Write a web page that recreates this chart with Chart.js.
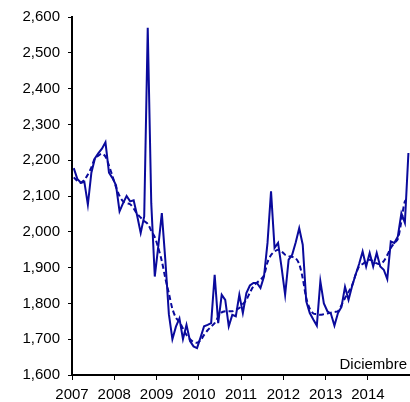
<!DOCTYPE html>
<html>
<head>
<meta charset="utf-8">
<script src="https://cdn.jsdelivr.net/npm/chart.js@4.4.1/dist/chart.umd.min.js"></script>
<style>
  html, body { margin: 0; padding: 0; background: #fff; }
  #wrap { width: 410px; height: 402px; position: relative; }
</style>
</head>
<body>
<div id="wrap"><canvas id="chart"></canvas></div>
<script>
// mensual, enero 2007 - diciembre 2014
const years = ["2007", "2008", "2009", "2010", "2011", "2012", "2013", "2014"];
const yTicks = [1600, 1700, 1800, 1900, 2000, 2100, 2200, 2300, 2400, 2500, 2600];

const serieMensual = [
	2178, 2148, 2137, 2140, 2076, 2165, 2205, 2220, 2232, 2250, 2165, 2150,
	2130, 2057, 2080, 2100, 2085, 2088, 2045, 1997, 2043, 2570, 2080, 1875,
	1960, 2052, 1920, 1770, 1700, 1735, 1758, 1700, 1740, 1695, 1680, 1675,
	1705, 1736, 1740, 1745, 1880, 1745, 1824, 1810, 1736, 1768, 1764, 1824,
	1773, 1829, 1850, 1857, 1857, 1843, 1875, 1969, 2113, 1955, 1969, 1900,
	1824, 1922, 1936, 1970, 2010, 1964, 1806, 1773, 1755, 1738, 1862, 1800,
	1778, 1771, 1738, 1773, 1790, 1846, 1810, 1848, 1880, 1910, 1945, 1903,
	1941, 1903, 1941, 1903, 1894, 1868, 1973, 1969, 1987, 2052, 2025, 2220
];

const tendencia = [
	2152, 2143, 2137, 2145, 2160, 2180, 2205, 2213, 2218, 2210, 2185, 2155,
	2125, 2100, 2085, 2080, 2077, 2065, 2050, 2040, 2030, 2022, 2003, 1985,
	1955, 1918, 1870, 1828, 1785, 1760, 1748, 1730, 1712, 1700, 1692, 1690,
	1697, 1712, 1725, 1735, 1745, 1762, 1775, 1778, 1778, 1778, 1782, 1787,
	1798, 1810, 1830, 1848, 1858, 1866, 1878, 1915, 1935, 1945, 1950, 1945,
	1936, 1932, 1930, 1926, 1910, 1870, 1815, 1785, 1772, 1770, 1768, 1770,
	1772, 1774, 1776, 1778, 1795, 1815, 1832, 1850, 1880, 1903, 1910, 1918,
	1922, 1918, 1912, 1910, 1918, 1935, 1955, 1968, 1980, 2030, 2085, 2095
];

const azul = "#0a0a9c";
const fuente = "'Liberation Sans', Arial, sans-serif";

const toPoints = arr => arr.map((v, i) => ({ x: i, y: v }));

const diciembrePlugin = {
	id: "diciembre",
	afterDraw(chart) {
		const c = chart.ctx;
		const area = chart.chartArea;
		c.save();
		c.font = "15px " + fuente;
		c.fillStyle = "#000";
		c.textAlign = "right";
		c.textBaseline = "alphabetic";
		c.fillText("Diciembre", area.right - 3, area.bottom - 6);
		c.restore();
	}
};

new Chart(document.getElementById("chart"), {
	type: "line",
	data: {
		datasets: [
			{
				label: "Mensual",
				data: toPoints(serieMensual),
				borderColor: azul,
				borderWidth: 2,
				pointRadius: 0,
				tension: 0,
				fill: false
			},
			{
				label: "Tendencia",
				data: toPoints(tendencia),
				borderColor: azul,
				borderWidth: 2,
				borderDash: [5, 3],
				pointRadius: 0,
				tension: 0.3,
				fill: false
			}
		]
	},
	options: {
		responsive: true,
		maintainAspectRatio: false,
		animation: false,
		layout: { padding: { top: 17, right: 0, bottom: 0, left: 0 } },
		plugins: {
			legend: { display: false },
			tooltip: { enabled: false }
		},
		scales: {
			x: {
				type: "linear",
				min: -0.5,
				max: 95.45,
				afterBuildTicks: scale => {
					scale.ticks = years.map((y, k) => ({ value: -0.5 + 12 * k }));
				},
				afterFit: scale => { scale.height = 27; },
				ticks: {
					autoSkip: false,
					maxRotation: 0,
					padding: 6,
					color: "#000",
					font: { family: fuente, size: 15 },
					callback: (v, i) => years[i]
				},
				grid: {
					display: true,
					drawOnChartArea: false,
					drawTicks: true,
					tickLength: 5,
					color: "#000",
					lineWidth: 1
				},
				border: { display: true, color: "#000", width: 2 }
			},
			y: {
				min: 1600,
				max: 2600,
				afterBuildTicks: scale => {
					scale.ticks = yTicks.map(v => ({ value: v }));
				},
				afterFit: scale => { scale.width = 72; },
				ticks: {
					padding: 8,
					color: "#000",
					font: { family: fuente, size: 15 },
					callback: v => v.toLocaleString("en-US")
				},
				grid: {
					display: true,
					drawOnChartArea: false,
					drawTicks: true,
					tickLength: 4,
					color: "#000",
					lineWidth: 1
				},
				border: { display: true, color: "#000", width: 2 }
			}
		}
	},
	plugins: [diciembrePlugin]
});
</script>
</body>
</html>
